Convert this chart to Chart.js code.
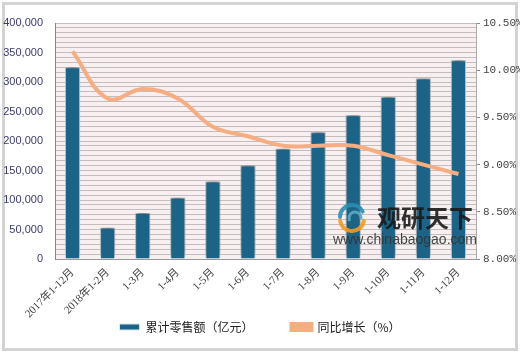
<!DOCTYPE html>
<html>
<head>
<meta charset="utf-8">
<script src="https://cdn.jsdelivr.net/npm/chart.js@4/dist/chart.umd.min.js"></script>
<style>
html,body{margin:0;padding:0;background:#fff;}
#wrap{width:520px;height:355px;position:relative;}
</style>
</head>
<body>
<div id="wrap"><canvas id="c" width="520" height="355"></canvas></div>
<script>
const categories = ["2017年1-12月","2018年1-2月","1-3月","1-4月","1-5月","1-6月","1-7月","1-8月","1-9月","1-10月","1-11月","1-12月"];
const salesValues = [325000, 53000, 78000, 104000, 131500, 158500, 187000, 215000, 243500, 274500, 306000, 337000];
const growthValues = [10.2, 9.7, 9.8, 9.7, 9.4, 9.3, 9.2, 9.2, 9.2, 9.1, 9.0, 8.9];
const seriesNames = ["累计零售额（亿元）", "同比增长（%）"];
const leftMax = 400000, leftMajor = 50000;
const rightMin = 8, rightMax = 10.5, rightStep = 0.5;

const bgPlugin = {
  id: 'bgPlugin',
  beforeDraw(chart) {
    const {ctx, chartArea: a} = chart;
    ctx.save();
    ctx.fillStyle = '#fff';
    ctx.fillRect(0, 0, chart.width, chart.height);
    ctx.strokeStyle = '#d3d3d3';
    ctx.lineWidth = 3;
    ctx.strokeRect(3.5, 3.5, 513, 346);
    ctx.fillStyle = '#f8eff0';
    ctx.fillRect(a.left, a.top, a.right - a.left, a.bottom - a.top);
    ctx.restore();
  },
  beforeDatasetDraw(chart, args) {
    if (args.index === 0) {
      const ctx = chart.ctx;
      ctx.save();
      ctx.shadowColor = 'rgba(40,40,40,0.6)';
      ctx.shadowBlur = 5;
      ctx.shadowOffsetX = 0;
      ctx.shadowOffsetY = -3;
    }
  },
  afterDatasetDraw(chart, args) {
    if (args.index === 0) chart.ctx.restore();
  },
  afterDatasetsDraw(chart) {
    const ctx = chart.ctx;
    ctx.save();
    ctx.globalAlpha = 0.9;
    ctx.lineCap = 'round';
    ctx.strokeStyle = '#2a8fb0';
    ctx.lineWidth = 4;
    ctx.beginPath(); ctx.arc(352, 217, 12, Math.PI * 1.0, Math.PI * 1.85); ctx.stroke();
    ctx.strokeStyle = '#f39a1e';
    ctx.beginPath(); ctx.arc(352, 219, 12, Math.PI * 0.05, Math.PI * 0.95); ctx.stroke();
    ctx.strokeStyle = '#5aa9c4';
    ctx.lineWidth = 3;
    ctx.beginPath(); ctx.arc(355, 218, 6, Math.PI * 0.9, Math.PI * 2.0); ctx.stroke();
    ctx.fillStyle = '#1a1a1a';
    ctx.font = 'bold 24px "Noto Sans CJK SC"';
    ctx.textBaseline = 'middle';
    ctx.textAlign = 'left';
    ctx.fillText('观研天下', 377, 218);
    ctx.fillStyle = '#333';
    ctx.font = '14px "Liberation Sans", Arial';
    ctx.fillText('www.chinabaogao.com', 333, 240);
    ctx.restore();
  }
};

new Chart(document.getElementById('c'), {
  data: {
    labels: categories,
    datasets: [
      {
        type: 'bar',
        label: seriesNames[0],
        data: salesValues,
        yAxisID: 'y',
        backgroundColor: '#1b6487',
        borderColor: '#d9e6ec',
        borderWidth: 1,
        barPercentage: 0.43,
        categoryPercentage: 1.0,
        order: 2
      },
      {
        type: 'line',
        label: seriesNames[1],
        data: growthValues,
        yAxisID: 'y2',
        borderColor: '#f6ad82',
        backgroundColor: '#f6ad82',
        borderWidth: 4,
        pointRadius: 0,
        tension: 0.4,
        order: 1
      }
    ]
  },
  plugins: [bgPlugin],
  options: {
    responsive: false,
    animation: false,
    devicePixelRatio: 1,
    layout: { padding: { left: 0, right: 0, top: 23, bottom: 12 } },
    plugins: {
      legend: {
        position: 'bottom',
        labels: {
          boxWidth: 20,
          boxHeight: 6,
          padding: 38,
          color: '#222',
          font: { family: '"Noto Sans CJK SC"', size: 12 },
          sort(a, b) { return a.datasetIndex - b.datasetIndex; }
        }
      },
      tooltip: { enabled: false }
    },
    scales: {
      x: {
        grid: { display: false, drawTicks: false },
        border: { display: true, color: '#999' },
        ticks: {
          minRotation: 45,
          maxRotation: 45,
          padding: 7,
          autoSkip: false,
          color: '#444',
          font: { family: '"Liberation Serif", "Noto Sans CJK SC"', size: 11 }
        },
        afterFit(s) {
          s.height = 24;
          s._computeLabelArea = () => undefined;
        }
      },
      y: {
        position: 'left',
        min: 0,
        max: leftMax,
        ticks: {
          stepSize: leftMajor / 6,
          autoSkip: false,
          padding: 12,
          color: '#3a3a70',
          font: { family: '"Liberation Sans", Arial', size: 11 },
          callback(v) {
            const r = v / leftMajor;
            if (Math.abs(r - Math.round(r)) < 1e-6) return Math.round(r * leftMajor).toLocaleString('en-US');
            return '';
          }
        },
        grid: { color: '#c4bdbd', lineWidth: 1, drawTicks: false },
        border: { display: true, color: '#888' },
        afterFit(s) { s.width = 55; }
      },
      y2: {
        position: 'right',
        min: rightMin,
        max: rightMax,
        ticks: {
          stepSize: rightStep,
          autoSkip: false,
          padding: 3,
          color: '#444',
          font: { family: '"Liberation Mono", "DejaVu Sans Mono"', size: 11 },
          callback(v) { return v.toFixed(2) + '%'; }
        },
        grid: { drawOnChartArea: false, drawTicks: true, tickLength: 4, color: '#888' },
        border: { display: true, color: '#aaa' },
        afterFit(s) { s.width = 44; }
      }
    }
  }
});
</script>
</body>
</html>
